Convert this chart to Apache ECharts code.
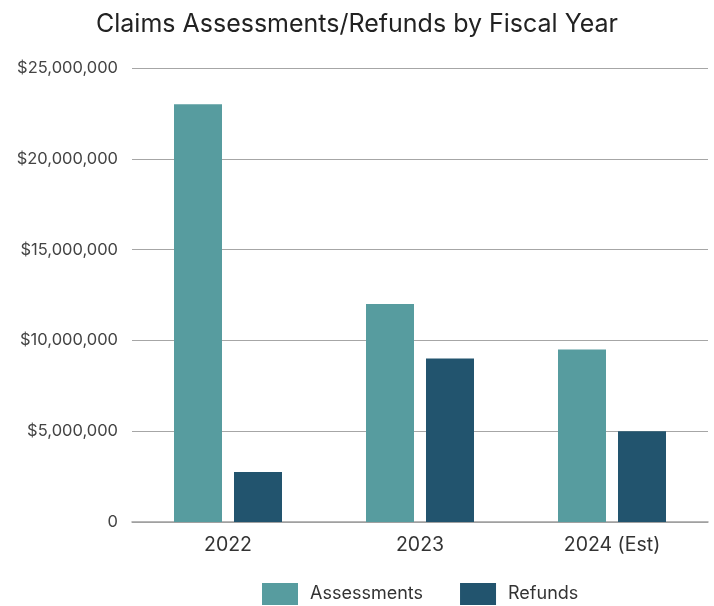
<!DOCTYPE html>
<html>
<head>
<meta charset="utf-8">
<script src="https://cdn.jsdelivr.net/npm/echarts@6/dist/echarts.min.js"></script>
<style>
html,body{margin:0;padding:0;background:#fff;}
#chart{width:714px;height:606px;}
</style>
</head>
<body>
<div id="chart"></div>
<script>
const categories = ['2022', '2023', '2024 (Est)'];
const assessments = [23000000, 12000000, 9500000];
const refunds = [2750000, 9000000, 5000000];
const seriesNames = ['Assessments', 'Refunds'];

const chart = echarts.init(document.getElementById('chart'));
chart.setOption({
  backgroundColor: '#ffffff',
  animation: false,
  title: {
    text: 'Claims Assessments/Refunds by Fiscal Year',
    left: 'center',
    top: 7,
    textStyle: { fontFamily: 'Inter', fontSize: 25, fontWeight: 'normal', color: '#222222' }
  },
  legend: {
    data: seriesNames,
    top: 583,
    left: 262,
    padding: 0,
    icon: 'rect',
    itemWidth: 36,
    itemHeight: 22,
    itemGap: 37,
    textStyle: { fontFamily: 'Inter', fontSize: 18, color: '#333333', padding: [0, 0, 0, 7] }
  },
  grid: { left: 132, right: 6, top: 68, bottom: 84, containLabel: false },
  xAxis: {
    type: 'category',
    data: categories,
    axisLine: { lineStyle: { color: '#9e9e9e', width: 1.5 } },
    axisTick: { show: false },
    axisLabel: { fontFamily: 'Inter', fontSize: 19.5, color: '#333333', margin: 13 }
  },
  yAxis: {
    type: 'value',
    min: 0, max: 25000000, interval: 5000000,
    axisLine: { show: false },
    axisTick: { show: false },
    splitLine: { lineStyle: { color: '#a6a6a6', width: 1 } },
    axisLabel: {
      fontFamily: 'Inter', fontSize: 16.5, color: '#444444', margin: 14,
      formatter: v => v === 0 ? '0' : '$' + v.toLocaleString('en-US')
    }
  },
  series: [
    { name: seriesNames[0], type: 'bar', data: assessments, barWidth: 48, barGap: '25%', itemStyle: { color: '#579c9f' } },
    { name: seriesNames[1], type: 'bar', data: refunds, barWidth: 48, itemStyle: { color: '#22546e' } }
  ]
});
</script>
</body>
</html>
